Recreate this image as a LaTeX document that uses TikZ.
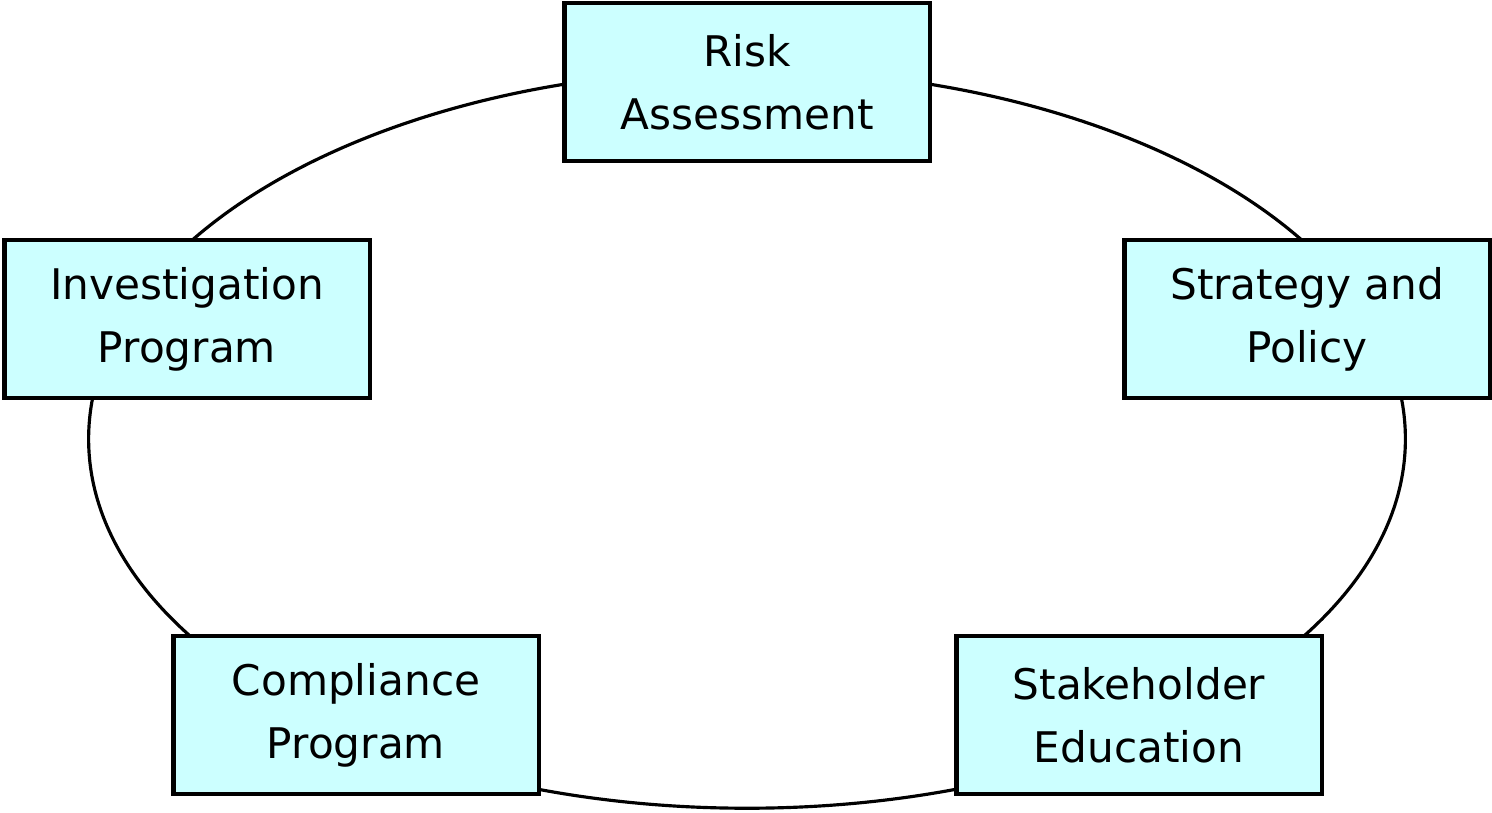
\documentclass[tikz,border=0pt]{standalone}
\usepackage{fontspec}
\setmainfont{DejaVu Sans}
\usepackage{tikz}
\usetikzlibrary{positioning}
\definecolor{boxcyan}{HTML}{CCFFFF}

\begin{document}
\begin{tikzpicture}[x=0.01cm,y=-0.01cm,
	nodes={draw, rectangle, fill=boxcyan, line width=1.2pt, minimum width=3.65cm, minimum height=1.58cm, align=center, font=\fontsize{12}{18}\selectfont}]
		\useasboundingbox (0,0) rectangle (1492,812);
		\coordinate (mid) at (747,439);
		\draw[line width=0.9pt] (mid) ellipse [x radius=6.58cm, y radius=3.69cm];
		\node (risk) at (747,82) {Risk\\Assessment};
		\node (invest) at (187,319) {Investigation\\Program};
		\node (strat) at (1307,319) {Strategy and\\Policy};
		\node (comply) at (356,715) {Compliance\\Program};
		\node (stake) at (1139,715) {Stakeholder\\Education};
		\end{tikzpicture}
\end{document}
